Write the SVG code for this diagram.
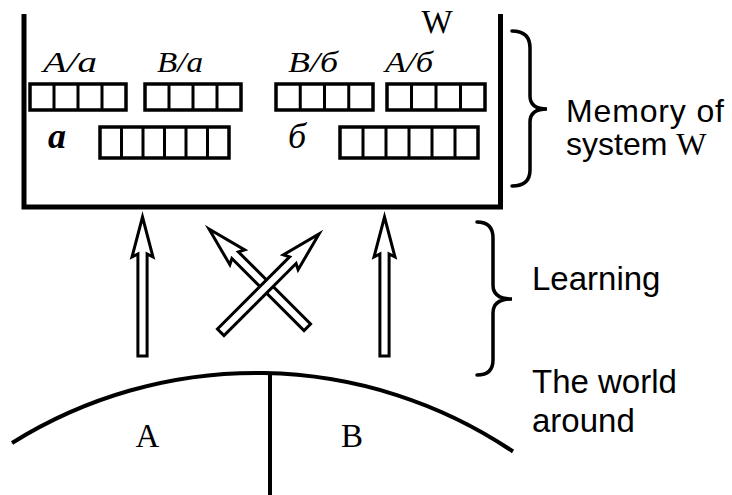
<svg xmlns="http://www.w3.org/2000/svg" xmlns:xlink="http://www.w3.org/1999/xlink" width="732" height="495" viewBox="0 0 732 495">
<style>
.ln{fill:none;stroke:#000;stroke-width:5;stroke-linecap:butt}
.box{fill:#fff;stroke:#000;stroke-width:3.5}
.div{fill:none;stroke:#000;stroke-width:3}
.lbl{font-family:"Liberation Serif",serif;font-style:italic;font-size:30px;fill:#000}
.big{font-family:"Liberation Serif",serif;font-style:italic;font-size:36px;fill:#000}
.ser{font-family:"Liberation Serif",serif;font-size:33px;fill:#000}
.sans{font-family:"Liberation Sans",Arial,sans-serif;font-size:32px;fill:#000}
.sans33{font-family:"Liberation Sans",Arial,sans-serif;font-size:33px;fill:#000}
.brace{fill:none;stroke:#000;stroke-width:3.5;stroke-linecap:round}
.arr{fill:#fff;stroke:#000;stroke-width:3;stroke-linejoin:miter}
</style>
<defs>
<polygon id="arrow" class="arr" points="0,0 10.5,40 4.6,37 4.6,139 -4.6,139 -4.6,37 -10.5,40"/>
</defs>
<rect width="732" height="495" fill="#fff"/>

<g id="memory">
<path class="ln" d="M24,14 V207 H500.5 V14"/>
<text class="ser" x="437" y="33" text-anchor="middle">W</text>
</g>

<g id="box-Aa">
<text class="lbl" x="43" y="72" textLength="54" lengthAdjust="spacingAndGlyphs">A/a</text>
<rect class="box" x="30" y="84" width="96" height="26"/>
<path class="div" d="M54,84V110M78,84V110M102,84V110"/>
</g>
<g id="box-Ba">
<text class="lbl" x="157" y="72" textLength="46" lengthAdjust="spacingAndGlyphs">B/a</text>
<rect class="box" x="145" y="84" width="96" height="26"/>
<path class="div" d="M169,84V110M193,84V110M217,84V110"/>
</g>
<g id="box-Bb">
<text class="lbl" x="288" y="72" textLength="50" lengthAdjust="spacingAndGlyphs">B/б</text>
<rect class="box" x="276" y="84" width="97" height="26"/>
<path class="div" d="M300.25,84V110M324.5,84V110M348.75,84V110"/>
</g>
<g id="box-Ab">
<text class="lbl" x="385" y="72" textLength="48" lengthAdjust="spacingAndGlyphs">A/б</text>
<rect class="box" x="387" y="84" width="98" height="26"/>
<path class="div" d="M411.5,84V110M436,84V110M460.5,84V110"/>
</g>
<g id="box-a">
<text class="big" x="48" y="148" font-weight="bold">a</text>
<rect class="box" x="100" y="127" width="129" height="31"/>
<path class="div" d="M121.5,127V158M143,127V158M164.5,127V158M186,127V158M207.5,127V158"/>
</g>
<g id="box-b">
<text class="big" x="288" y="148">б</text>
<rect class="box" x="340" y="127" width="138" height="31"/>
<path class="div" d="M363,127V158M386,127V158M409,127V158M432,127V158M455,127V158"/>
</g>

<g id="connectors">
<use xlink:href="#arrow" href="#arrow" transform="translate(142.5,217)"/>
<use xlink:href="#arrow" href="#arrow" transform="translate(384.5,217)"/>
<use xlink:href="#arrow" href="#arrow" transform="translate(209,229) rotate(-45)"/>
<use xlink:href="#arrow" href="#arrow" transform="translate(319,234) rotate(45)"/>
</g>

<g id="world">
<path class="ln" style="stroke-width:4" d="M12,443 A460,460 0 0 1 513,451.5"/>
<path class="ln" style="stroke-width:4" d="M270,373 V495"/>
<text class="ser" x="147.5" y="447" text-anchor="middle">A</text>
<text class="ser" x="352" y="447" text-anchor="middle">B</text>
</g>

<g id="brace-memory">
<path class="brace" d="M512,31 Q530,31 530,48 L530,96 Q530,109 547,109 Q530,109 530,122 L530,170 Q530,186 512,186"/>
<text class="sans" x="566" y="122" textLength="158" lengthAdjust="spacing">Memory of</text>
<text class="sans" x="566" y="155">system <tspan style="font-family:'Liberation Serif',serif">W</tspan></text>
</g>
<g id="brace-learning">
<path class="brace" d="M477,222 Q493,222 493,238 L493,285 Q493,299 512,299 Q493,299 493,313 L493,360 Q493,375 477,375"/>
<text class="sans33" x="532" y="290">Learning</text>
</g>
<g id="label-world">
<text class="sans33" x="532" y="393">The world</text>
<text class="sans33" x="532" y="432">around</text>
</g>
</svg>
